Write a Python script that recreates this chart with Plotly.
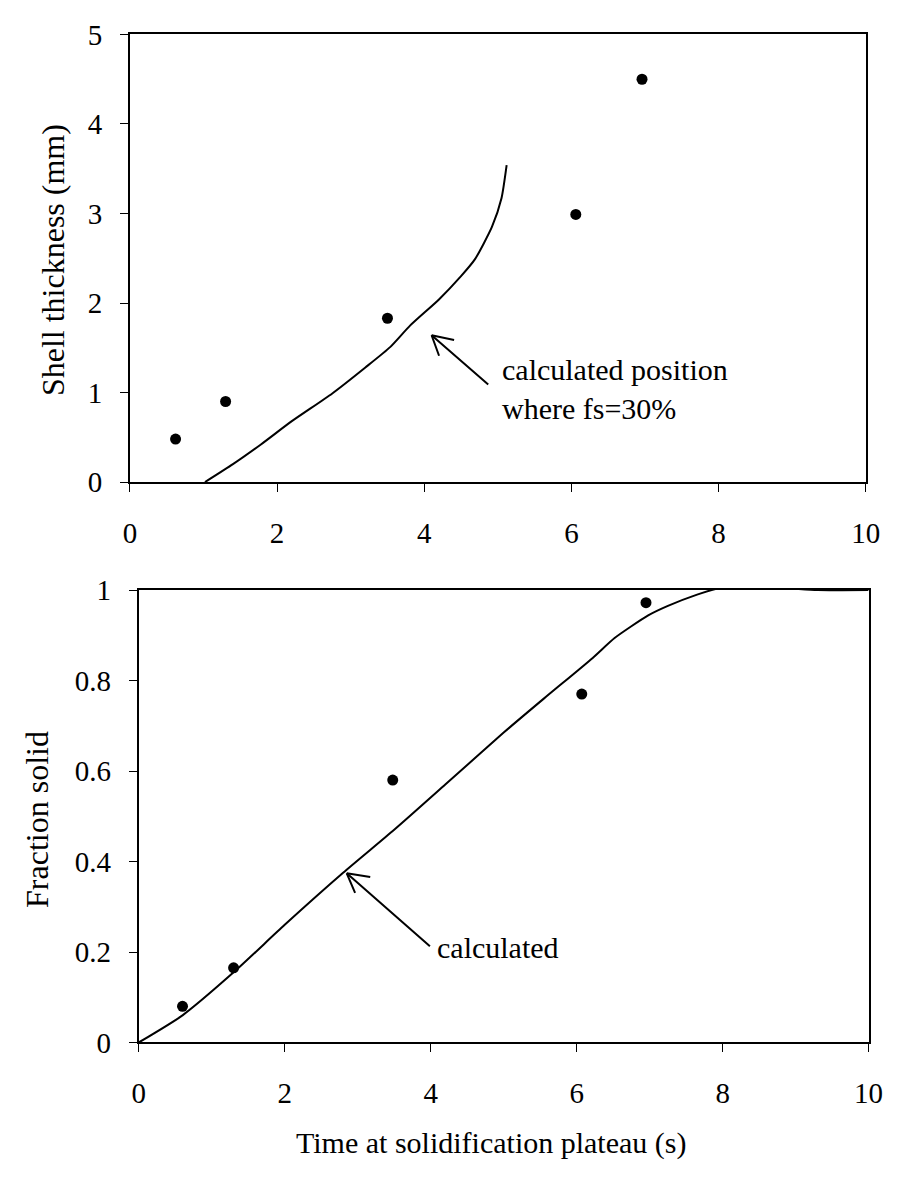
import plotly.graph_objects as go

# Top panel: shell thickness
top_meas_x = [0.62, 1.3, 3.5, 6.06, 6.96]
top_meas_y = [0.48, 0.9, 1.83, 2.99, 4.5]
top_calc_x = [1.02, 1.4, 1.78, 2.2, 2.75, 3.2, 3.54, 3.81, 4.2, 4.5, 4.69, 4.92, 5.05, 5.12]
top_calc_y = [0.0, 0.2, 0.42, 0.68, 0.99, 1.28, 1.51, 1.75, 2.04, 2.3, 2.49, 2.85, 3.17, 3.54]

# Bottom panel: fraction solid
bot_meas_x = [0.6, 1.3, 3.48, 6.07, 6.95, 10.0]
bot_meas_y = [0.08, 0.165, 0.58, 0.77, 0.972, 1.005]
bot_calc_x = [0, 0.6, 1.3, 2.0, 2.8, 3.5, 4.2, 5.0, 5.55, 6.22, 6.52, 6.98, 7.25, 7.65, 7.95, 8.3, 8.7, 9.3, 10.0]
bot_calc_y = [0, 0.06, 0.155, 0.26, 0.375, 0.47, 0.57, 0.685, 0.76, 0.85, 0.894, 0.944, 0.965, 0.99, 1.004, 1.01, 1.006, 1.0, 1.0]

x_ticks = [0, 2, 4, 6, 8, 10]
top_y_ticks = [0, 1, 2, 3, 4, 5]
bot_y_ticks = [0, 0.2, 0.4, 0.6, 0.8, 1]
bot_y_labels = ["0", "0.2", "0.4", "0.6", "0.8", "1"]

FONT = "Liberation Serif, Times New Roman, serif"
W, H = 908, 1184

fig = go.Figure()
line = dict(color="black", width=2, shape="spline", smoothing=0.6)
mk = dict(color="black", size=11, symbol="circle")

fig.add_trace(go.Scatter(x=top_calc_x, y=top_calc_y, mode="lines", line=line,
                         xaxis="x", yaxis="y", cliponaxis=False, showlegend=False))
fig.add_trace(go.Scatter(x=top_meas_x, y=top_meas_y, mode="markers", marker=mk,
                         xaxis="x", yaxis="y", cliponaxis=False, showlegend=False))
fig.add_trace(go.Scatter(x=bot_calc_x, y=bot_calc_y, mode="lines", line=line,
                         xaxis="x2", yaxis="y2", cliponaxis=False, showlegend=False))
fig.add_trace(go.Scatter(x=bot_meas_x, y=bot_meas_y, mode="markers", marker=mk,
                         xaxis="x2", yaxis="y2", cliponaxis=False, showlegend=False))

axcommon = dict(showgrid=False, zeroline=False, showline=True, linecolor="black",
                linewidth=2, mirror=True, ticks="outside", ticklen=8, tickwidth=1,
                tickcolor="black", tickfont=dict(family=FONT, size=29, color="black"))

fig.update_layout(
    width=W, height=H, margin=dict(l=0, r=0, t=0, b=0),
    paper_bgcolor="white", plot_bgcolor="white",
    xaxis=dict(domain=[126 / W, 880 / W], range=[0, 10], tickvals=x_ticks,
               anchor="y", ticklabelstandoff=16, **axcommon),
    yaxis=dict(domain=[1 - 479 / H, 1 - 19 / H], range=[0, 5], tickvals=top_y_ticks,
               anchor="x", ticklabelstandoff=12, **axcommon),
    xaxis2=dict(domain=[135 / W, 883 / W], range=[0, 10], tickvals=x_ticks,
                anchor="y2", ticklabelstandoff=16, **axcommon),
    yaxis2=dict(domain=[1 - 1055 / H, 1 - 590 / H], range=[0, 1], tickvals=bot_y_ticks,
                ticktext=bot_y_labels, anchor="x2", ticklabelstandoff=12, **axcommon),
)

tfont = dict(family=FONT, size=30, color="black")
annots = [
    dict(text="Shell thickness (mm)", x=47 / W, y=1 - 251 / H, textangle=-90, font=dict(family=FONT, size=32, color="black")),
    dict(text="Fraction solid", x=30 / W, y=1 - 826 / H, textangle=-90, font=dict(family=FONT, size=32, color="black")),
    dict(text="Time at solidification plateau (s)", x=496 / W, y=1 - 1158 / H, font=tfont),
]
for a in annots:
    fig.add_annotation(xref="paper", yref="paper", showarrow=False,
                       xanchor="center", yanchor="middle", **a)

# arrows: shaft + two thin arms forming an open V head
def open_arrow(xref, yref, hx, hy, tx, ty, arms):
    fig.add_annotation(xref=xref, yref=yref, x=hx, y=hy, ax=tx, ay=ty,
                       axref=xref, ayref=yref, showarrow=True, arrowhead=0,
                       arrowwidth=2, arrowcolor="black", text="")
    for (dx, dy) in arms:
        fig.add_annotation(xref=xref, yref=yref, x=hx, y=hy, ax=dx, ay=dy,
                           showarrow=True, arrowhead=0, arrowwidth=2,
                           arrowcolor="black", text="")

open_arrow("x", "y", 4.10, 1.64, 4.89, 1.076, [(24, 5), (8, 22)])
open_arrow("x2", "y2", 2.85, 0.374, 4.01, 0.21, [(25, 4), (9, 21)])

fig.add_annotation(xref="x", yref="y", x=5.03, y=1.04, showarrow=False,
                   text="calculated position<br>where fs=30%", font=tfont,
                   xanchor="left", yanchor="middle", align="left")
fig.add_annotation(xref="x2", yref="y2", x=4.06, y=0.21, showarrow=False,
                   text="calculated", font=tfont, xanchor="left", yanchor="middle")

fig.write_html("out.html")
